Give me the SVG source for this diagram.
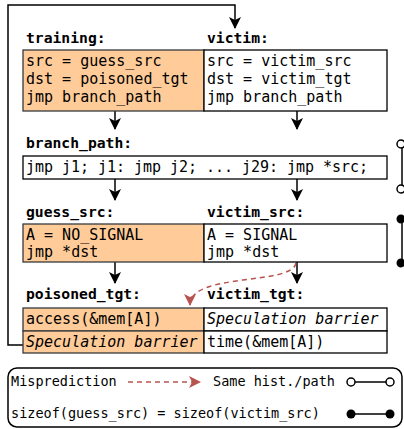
<svg xmlns="http://www.w3.org/2000/svg" width="404" height="429" viewBox="0 0 404 429">
<defs>
<marker id="ah" markerUnits="userSpaceOnUse" markerWidth="12" markerHeight="12" viewBox="0 0 12 12" refX="11" refY="6" orient="auto"><path d="M0,0 L12,6 L0,12 L3,6 Z" fill="#000"/></marker>
<marker id="ahr" markerUnits="userSpaceOnUse" markerWidth="12" markerHeight="12" viewBox="0 0 12 12" refX="11" refY="6" orient="auto"><path d="M0,0 L12,6 L0,12 L3,6 Z" fill="#b85450"/></marker>
<style>
.t{font-family:"DejaVu Sans Mono","Liberation Mono",monospace;font-size:15px;fill:#000}
.lb{font-family:"DejaVu Sans Mono","Liberation Mono",monospace;font-size:14.7px;font-weight:bold;fill:#000}
.lg{font-family:"DejaVu Sans Mono","Liberation Mono",monospace;font-size:13.5px;fill:#000}
.it{font-style:italic}
.o{fill:#ffcc99;stroke:#36393d;stroke-width:1.3}
.w{fill:#fff;stroke:#000;stroke-width:1.3}
.c{fill:none;stroke:#000;stroke-width:1.5}
.r{fill:none;stroke:#b85450;stroke-width:1.5;stroke-dasharray:5,4}
</style>
</defs>
<g id="connectors">
<path class="c" d="M23,345 H8 V5 H235 V28" marker-end="url(#ah)"/>
<line class="c" x1="115" y1="111" x2="115" y2="129" marker-end="url(#ah)"/>
<line class="c" x1="297" y1="111" x2="297" y2="129" marker-end="url(#ah)"/>
<line class="c" x1="115" y1="179" x2="115" y2="200" marker-end="url(#ah)"/>
<line class="c" x1="297" y1="179" x2="297" y2="200" marker-end="url(#ah)"/>
<line class="c" x1="115" y1="262" x2="115" y2="283" marker-end="url(#ah)"/>
<line class="c" x1="297" y1="262" x2="297" y2="283" marker-end="url(#ah)"/>
<path class="r" d="M296,263 C292,286 190,272 190,305" marker-end="url(#ahr)"/>
<line class="c" x1="402" y1="144" x2="402" y2="189"/>
<circle cx="401" cy="144" r="4" fill="#fff" stroke="#000" stroke-width="1.5"/>
<circle cx="401" cy="189" r="4" fill="#fff" stroke="#000" stroke-width="1.5"/>
<line class="c" x1="402" y1="219" x2="402" y2="263"/>
<circle cx="401" cy="219" r="4.5" fill="#000"/>
<circle cx="401" cy="263" r="4.5" fill="#000"/>
</g>
<g id="training">
<text class="lb" x="26" y="43">training:</text>
<rect class="o" x="23" y="50" width="181" height="61"/>
<text class="t" x="26" y="66">src = guess_src</text>
<text class="t" x="26" y="84">dst = poisoned_tgt</text>
<text class="t" x="26" y="102">jmp branch_path</text>
</g>
<g id="victim">
<text class="lb" x="207" y="43">victim:</text>
<rect class="w" x="204" y="50" width="183" height="61"/>
<text class="t" x="207" y="66">src = victim_src</text>
<text class="t" x="207" y="84">dst = victim_tgt</text>
<text class="t" x="207" y="102">jmp branch_path</text>
</g>
<g id="branch_path">
<text class="lb" x="26" y="148">branch_path:</text>
<rect class="w" x="23" y="156" width="364" height="23"/>
<text class="t" x="26" y="172" textLength="342">jmp j1; j1: jmp j2; ... j29: jmp *src;</text>
</g>
<g id="guess_src">
<text class="lb" x="26" y="217">guess_src:</text>
<rect class="o" x="23" y="224" width="181" height="38"/>
<text class="t" x="26" y="240">A = NO_SIGNAL</text>
<text class="t" x="26" y="257">jmp *dst</text>
</g>
<g id="victim_src">
<text class="lb" x="207" y="217">victim_src:</text>
<rect class="w" x="204" y="224" width="183" height="38"/>
<text class="t" x="207" y="240">A = SIGNAL</text>
<text class="t" x="207" y="257">jmp *dst</text>
</g>
<g id="poisoned_tgt">
<text class="lb" x="26" y="299">poisoned_tgt:</text>
<rect class="o" x="23" y="308" width="181" height="23"/>
<rect class="o" x="23" y="331" width="181" height="22"/>
<text class="t" x="26" y="324">access(&amp;mem[A])</text>
<text class="t it" x="26" y="347">Speculation barrier</text>
</g>
<g id="victim_tgt">
<text class="lb" x="207" y="299">victim_tgt:</text>
<rect class="w" x="204" y="308" width="183" height="23"/>
<rect class="w" x="204" y="331" width="183" height="22"/>
<text class="t it" x="207" y="324">Speculation barrier</text>
<text class="t" x="207" y="347">time(&amp;mem[A])</text>
</g>
<g id="legend">
<rect x="8" y="368" width="394" height="59" rx="9" fill="#fff" stroke="#000" stroke-width="1.5"/>
<text class="lg" x="11" y="386">Misprediction</text>
<line class="r" x1="128" y1="382" x2="200" y2="382" marker-end="url(#ahr)"/>
<text class="lg" x="213" y="386">Same hist./path</text>
<line class="c" x1="351" y1="382" x2="390" y2="382"/>
<circle cx="351" cy="382" r="4" fill="#fff" stroke="#000" stroke-width="1.5"/>
<circle cx="390" cy="382" r="4" fill="#fff" stroke="#000" stroke-width="1.5"/>
<text class="lg" x="11" y="418">sizeof(guess_src) = sizeof(victim_src)</text>
<line class="c" x1="351" y1="414" x2="390" y2="414"/>
<circle cx="351" cy="414" r="4.5" fill="#000"/>
<circle cx="390" cy="414" r="4.5" fill="#000"/>
</g>
</svg>
